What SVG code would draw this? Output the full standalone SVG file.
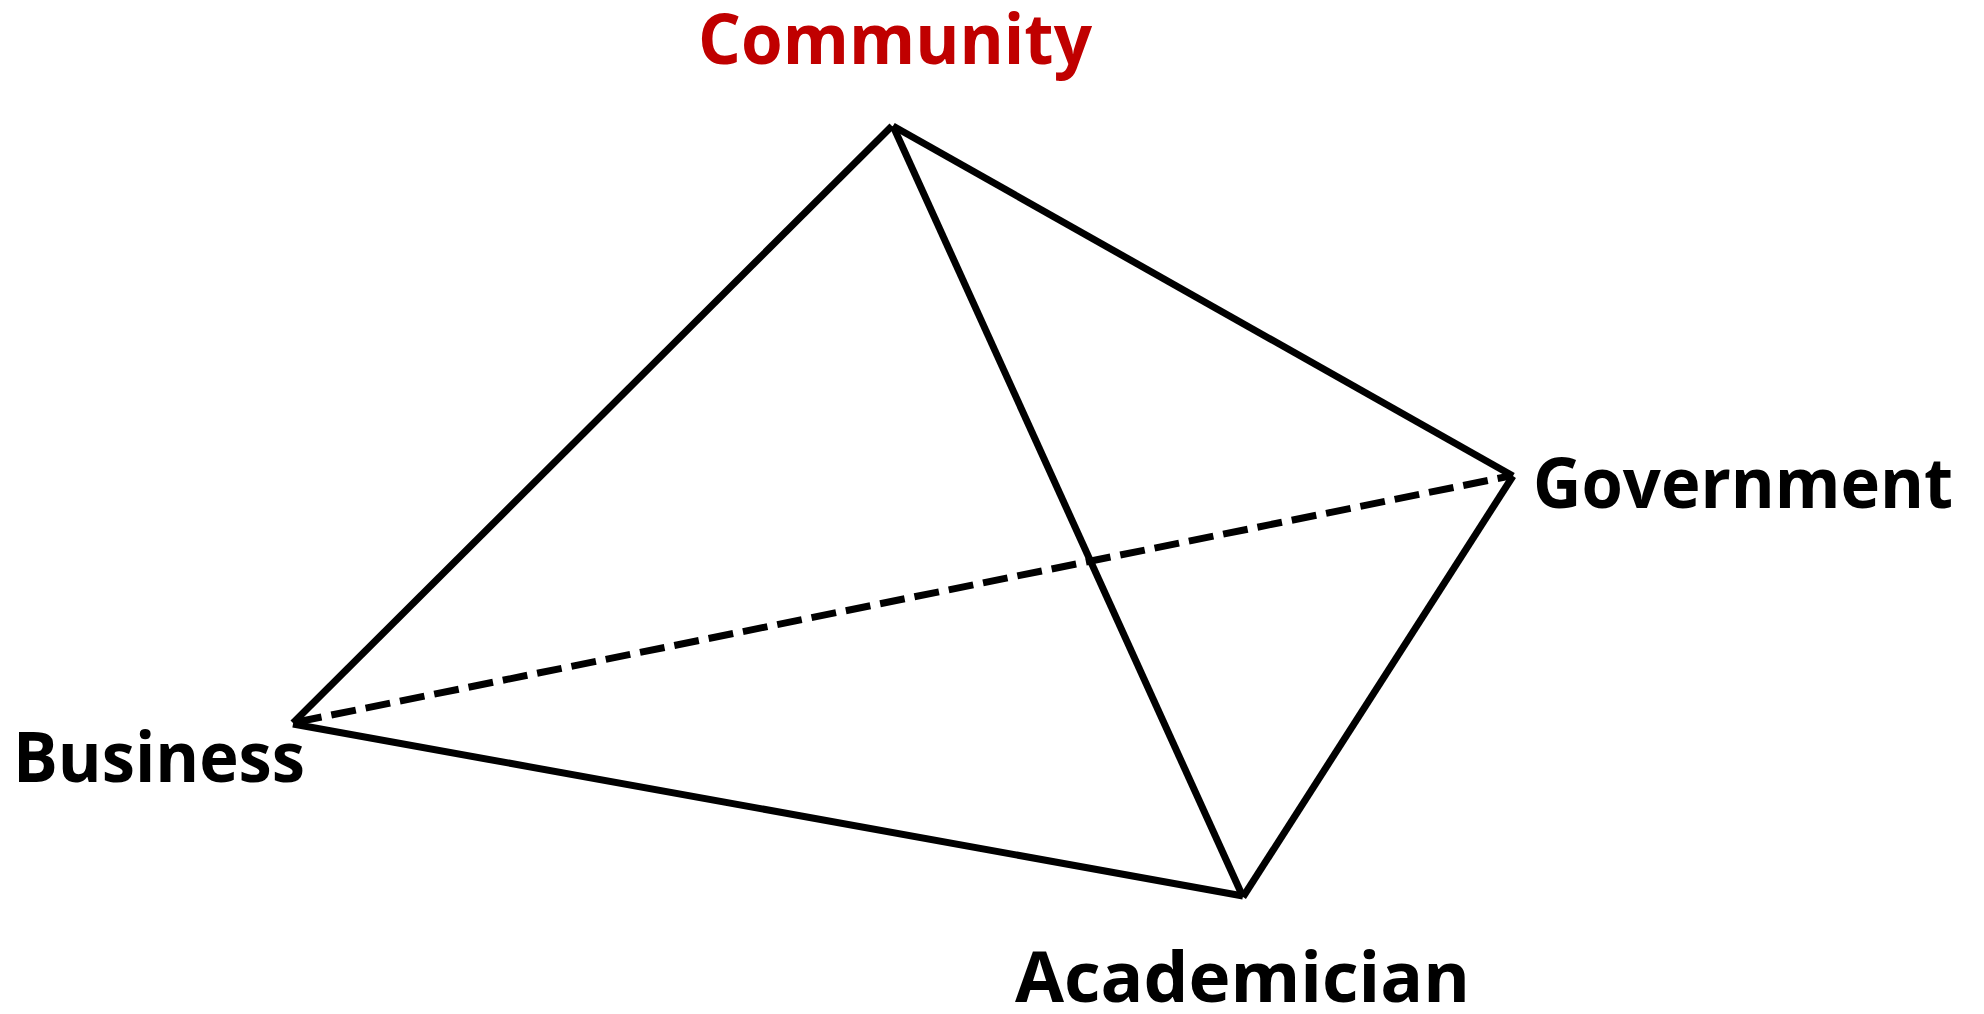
<svg xmlns="http://www.w3.org/2000/svg" width="1984" height="1014" viewBox="0 0 1984 1014">
  <style>
    .lbl { font-family: "Open Sans", "Liberation Sans", sans-serif; font-weight: 700; font-size: 70px; fill: #000000; }
    .red { fill: #C00000; }
    .edge { stroke: #000000; stroke-width: 7; fill: none; stroke-linecap: butt; }
    .dash { stroke-dasharray: 25 10; }
  </style>
  <rect width="1984" height="1014" fill="#ffffff"/>
  <g id="connectors">
    <line class="edge dash" x1="297" y1="722" x2="1510" y2="476"/>
    <line class="edge" x1="293" y1="723" x2="892" y2="126"/>
    <line class="edge" x1="893" y1="126" x2="1513" y2="476"/>
    <line class="edge" x1="893" y1="126" x2="1243" y2="897"/>
    <line class="edge" x1="1513" y1="476" x2="1243" y2="897"/>
    <line class="edge" x1="293" y1="724" x2="1243" y2="896"/>
  </g>
  <g id="community">
    <text class="lbl red" x="698" y="64" textLength="394" lengthAdjust="spacingAndGlyphs">Community</text>
  </g>
  <g id="government">
    <text class="lbl" x="1533" y="508" textLength="420" lengthAdjust="spacingAndGlyphs">Government</text>
  </g>
  <g id="business">
    <text class="lbl" x="13" y="782" textLength="292" lengthAdjust="spacingAndGlyphs">Business</text>
  </g>
  <g id="academician">
    <text class="lbl" x="1015" y="1002" textLength="455" lengthAdjust="spacingAndGlyphs">Academician</text>
  </g>
</svg>
